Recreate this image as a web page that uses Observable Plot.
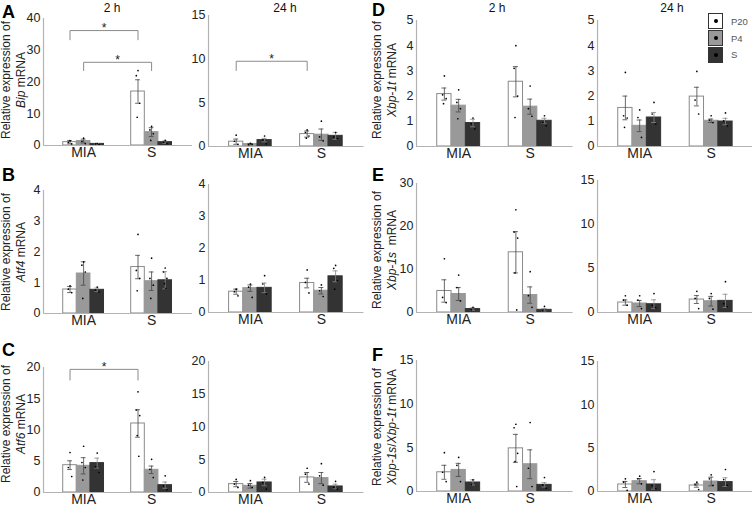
<!DOCTYPE html>
<html><head><meta charset="utf-8">
<script src="https://cdn.jsdelivr.net/npm/d3@7"></script>
<script src="https://cdn.jsdelivr.net/npm/@observablehq/plot@0.6"></script>
<style>
body{margin:0;background:#fff;font-family:Arial,"Liberation Sans",sans-serif;}
#root{position:relative;width:752px;height:511px;overflow:hidden;background:#fff}
.abs{position:absolute}
.letter{font-weight:bold;font-size:18px;color:#000;line-height:21px}
.ttl{font-size:12px;color:#111;transform:translateX(-50%);white-space:nowrap;line-height:14px}
.ylab{font-size:12px;color:#222;transform:translate(-50%,-50%) rotate(-90deg);white-space:nowrap;text-align:center;line-height:15px}
.leg{position:absolute;left:708px;top:13px;font-size:9.5px;color:#555}
.leg .row{display:flex;align-items:center;height:16.7px}
.leg .sw{width:13px;height:14px;border:1px solid #333;display:flex;align-items:center;justify-content:center;box-sizing:content-box}
.leg .sw span{width:4px;height:4px;border-radius:50%;background:#000}
.leg .lb{margin-left:8px}
svg{position:absolute}
svg g[aria-label="x-axis tick label"] text{font-size:14px}
</style></head><body><div id="root"></div>
<script>
// ---- categories ----
const groups = ["MIA", "S"];
const series = ["P20", "P4", "S"];
const times = ["2 h", "24 h"];

// ---- Bip (A) ----
const A2_mean = [1.05, 1.4, 0.5, 17.0, 4.2, 1.05];
const A2_sem  = [0.5, 0.6, 0.15, 3.7, 1.4, 0.4];
const A2_pts  = [[1.5, 1.0, 0.5], [2.3, 1.3, 0.6], [0.6, 0.5, 0.3], [23.6, 22.0, 13.3, 8.9], [6.0, 4.9, 3.7, 1.6], [1.6, 1.0, 0.6]];
const A24_mean = [0.55, 0.27, 0.73, 1.42, 1.35, 1.22];
const A24_sem  = [0.3, 0.08, 0.2, 0.35, 0.65, 0.4];
const A24_pts  = [[1.3, 0.6, 0.25], [0.35, 0.2, 0.25], [1.2, 0.75, 0.3], [1.9, 1.6, 1.2, 0.95], [2.9, 1.1, 0.65], [1.6, 1.1, 0.9]];

// ---- Atf4 (B) ----
const B2_mean = [0.78, 1.3, 0.77, 1.51, 1.05, 1.08];
const B2_sem  = [0.1, 0.38, 0.06, 0.38, 0.3, 0.28];
const B2_pts  = [[0.9, 0.79, 0.68], [1.68, 1.57, 1.35, 0.49], [0.86, 0.76, 0.7], [2.57, 1.4, 1.14, 0.74], [1.8, 1.14, 0.92, 0.49], [1.48, 1.35, 1.14, 0.97, 0.81]];
const B24_mean = [0.65, 0.76, 0.77, 0.92, 0.68, 1.13];
const B24_sem  = [0.08, 0.1, 0.15, 0.15, 0.1, 0.17];
const B24_pts  = [[0.73, 0.65, 0.52], [0.89, 0.79, 0.47], [1.15, 0.89, 0.58], [1.33, 0.94, 0.61], [0.86, 0.68, 0.5], [1.47, 1.38, 0.99, 0.73]];

// ---- Atf6 (C) ----
const C2_mean = [4.37, 4.27, 4.7, 11.04, 3.63, 1.17];
const C2_sem  = [0.7, 1.3, 0.8, 2.2, 0.6, 0.5];
const C2_pts  = [[6.4, 4.0, 2.56], [7.4, 4.8, 4.0, 2.0], [6.3, 4.1, 3.2], [16.1, 13.2, 12.3, 9.1, 5.8], [5.3, 3.7, 2.4], [2.67, 1.07, 0.43]];
const C24_mean = [1.28, 1.02, 1.53, 2.3, 2.2, 0.92];
const C24_sem  = [0.4, 0.35, 0.5, 0.75, 0.85, 0.35];
const C24_pts  = [[2.0, 1.28, 0.77], [1.8, 1.12, 0.77], [2.3, 1.53, 0.5], [3.7, 2.8, 1.28], [4.4, 2.55, 1.12], [1.7, 0.77, 0.5]];

// ---- Xbp-1t (D) ----
const D2_mean = [2.08, 1.62, 0.93, 2.57, 1.58, 1.02];
const D2_sem  = [0.24, 0.25, 0.15, 0.6, 0.3, 0.1];
const D2_pts  = [[2.8, 2.05, 1.9, 1.7], [2.25, 1.75, 1.5, 1.1], [1.13, 0.9, 0.7], [4.0, 3.1, 2.0, 1.15], [2.4, 1.5, 1.2], [1.22, 0.95, 0.82]];
const D24_mean = [1.53, 0.82, 1.15, 1.98, 1.02, 0.99];
const D24_sem  = [0.47, 0.23, 0.2, 0.37, 0.07, 0.13];
const D24_pts  = [[2.94, 1.22, 1.13, 0.76], [1.45, 1.15, 0.36], [1.75, 1.29, 0.89], [2.98, 1.84, 1.29], [1.22, 1.05, 0.95], [1.33, 1.02, 0.82]];

// ---- Xbp-1s (E) ----
const E2_mean = [5.0, 4.3, 0.8, 14.0, 4.05, 0.62];
const E2_sem  = [2.6, 1.5, 0.3, 4.8, 1.9, 0.3];
const E2_pts  = [[12.5, 3.5, 2.3], [8.7, 5.8, 2.7], [1.2, 0.6], [23.9, 18.7, 17.3, 9.2, 0.6], [9.5, 3.9, 1.2], [1.4, 0.4]];
const E24_mean = [1.13, 1.02, 0.94, 1.47, 1.28, 1.32];
const E24_sem  = [0.3, 0.35, 0.5, 0.45, 0.55, 0.75];
const E24_pts  = [[1.9, 1.4, 0.83], [1.9, 1.4, 0.45], [2.15, 0.83, 0.53], [2.4, 1.6, 0.45], [2.15, 1.6, 0.38], [3.5, 1.0, 0.64]];

// ---- Xbp-1s/Xbp-1t (F) ----
const F2_mean = [2.2, 2.47, 1.03, 4.94, 3.12, 0.76];
const F2_sem  = [0.8, 0.75, 0.3, 1.6, 1.65, 0.25];
const F2_pts  = [[4.45, 2.2, 1.14], [3.9, 3.0, 1.14], [1.33, 0.76], [7.7, 7.3, 4.37, 3.42, 0.57], [7.9, 2.66, 0.57], [1.6, 0.76, 0.38]];
const F24_mean = [0.81, 1.19, 0.81, 0.69, 1.15, 1.08];
const F24_sem  = [0.35, 0.3, 0.55, 0.2, 0.5, 0.5];
const F24_pts  = [[1.46, 1.08, 0.12], [1.77, 1.46, 0.88], [2.3, 0.7, 0.31], [1.08, 0.77, 0.23], [1.92, 1.46, 0.7], [2.54, 1.38, 0.7]];

// ---- significance brackets: [group, series] endpoints, bracket top & leg end ----
const A2_sig  = [{from: [0, 0], to: [1, 0], top: 36.2, leg: 33.3}, {from: [0, 1], to: [1, 1], top: 26.2, leg: 23.6}];
const A24_sig = [{from: [0, 0], to: [1, 0], top: 9.76, leg: 8.7}];
const C2_sig  = [{from: [0, 0], to: [1, 0], top: 19.7, leg: 18.0}];

// ---- y tick labels ----
const ticksA2 = [0, 10, 20, 30, 40];
const ticks15 = [0, 5, 10, 15];
const ticks5 = [0, 1, 2, 3, 4, 5];
const ticks4 = [0, 1, 2, 3, 4];
const ticks30 = [0, 10, 20, 30];
const ticks20 = [0, 5, 10, 15, 20];

// ---- layout (not data) ----
const COLS = [{ax: 43, sp: 68}, {ax: 208, sp: 71}, {ax: 416, sp: 71.5}, {ax: 597, sp: 71.5}];
const X0 = -0.59, X1 = 1.6, BW = 0.2, CAP = 0.035;
const fills = ["#ffffff", "#999999", "#333333"];
const strokes = ["#8a8a8a", "#999999", "#333333"];
const errCol = ["#444", "#444", "#888"];
const jit = [0, -0.025, 0.025, -0.012, 0.012];

const panels = [
  {col: 0, yTop: 18, yZero: 145, ymax: 40, ticks: ticksA2, mean: A2_mean, sem: A2_sem, pts: A2_pts, sig: A2_sig},
  {col: 1, yTop: 15, yZero: 146, ymax: 15, ticks: ticks15, mean: A24_mean, sem: A24_sem, pts: A24_pts, sig: A24_sig},
  {col: 2, yTop: 20, yZero: 146, ymax: 5, ticks: ticks5, mean: D2_mean, sem: D2_sem, pts: D2_pts},
  {col: 3, yTop: 20, yZero: 146, ymax: 5, ticks: ticks5, mean: D24_mean, sem: D24_sem, pts: D24_pts},
  {col: 0, yTop: 190, yZero: 313, ymax: 4, ticks: ticks4, mean: B2_mean, sem: B2_sem, pts: B2_pts},
  {col: 1, yTop: 184, yZero: 312, ymax: 4, ticks: ticks4, mean: B24_mean, sem: B24_sem, pts: B24_pts},
  {col: 2, yTop: 183, yZero: 312, ymax: 30, ticks: ticks30, mean: E2_mean, sem: E2_sem, pts: E2_pts},
  {col: 3, yTop: 180, yZero: 312, ymax: 15, ticks: ticks15, mean: E24_mean, sem: E24_sem, pts: E24_pts},
  {col: 0, yTop: 367, yZero: 492, ymax: 20, ticks: ticks20, mean: C2_mean, sem: C2_sem, pts: C2_pts, sig: C2_sig},
  {col: 1, yTop: 361, yZero: 492, ymax: 20, ticks: ticks20, mean: C24_mean, sem: C24_sem, pts: C24_pts},
  {col: 2, yTop: 360, yZero: 491, ymax: 15, ticks: ticks15, mean: F2_mean, sem: F2_sem, pts: F2_pts},
  {col: 3, yTop: 361, yZero: 491, ymax: 15, ticks: ticks15, mean: F24_mean, sem: F24_sem, pts: F24_pts}
];

const root = document.getElementById("root");

function drawPanel(p) {
  const {sp, ax} = COLS[p.col];
  const W = (X1 - X0) * sp, mL = 32, mR = 1, mT = 9, mB = 20;
  const H = p.yZero - p.yTop;
  const pos = (g, s) => g + (s - 1) * BW;
  const bars = [], dots = [];
  groups.forEach((g, gi) => series.forEach((s, si) => {
    const k = gi * 3 + si, c = pos(gi, si);
    bars.push({si, c, v: p.mean[k], e: p.sem[k]});
    p.pts[k].forEach((v, j) => dots.push({x: c + jit[j % jit.length], y: v}));
  }));
  const brk = [], stars = [];
  (p.sig || []).forEach((b, i) => {
    const xa = pos(...b.from), xb = pos(...b.to);
    [[xa, b.leg], [xa, b.top], [xb, b.top], [xb, b.leg]].forEach(([x, y]) => brk.push({x, y, i}));
    stars.push({x: (xa + xb) / 2, y: b.top});
  });
  const marks = [];
  series.forEach((s, si) => {
    marks.push(Plot.rect(bars.filter(d => d.si === si), {
      x1: d => d.c - BW / 2, x2: d => d.c + BW / 2, y1: () => 0, y2: "v",
      fill: fills[si], stroke: strokes[si], strokeWidth: 1
    }));
  });
  series.forEach((s, si) => {
    const bs = bars.filter(d => d.si === si);
    marks.push(Plot.ruleX(bs, {x: "c", y1: d => d.v - d.e, y2: d => d.v + d.e, stroke: errCol[si], strokeWidth: 0.8}));
    marks.push(Plot.ruleY(bs, {y: d => d.v + d.e, x1: d => d.c - CAP, x2: d => d.c + CAP, stroke: errCol[si], strokeWidth: 0.8}));
    marks.push(Plot.ruleY(bs, {y: d => d.v - d.e, x1: d => d.c - CAP, x2: d => d.c + CAP, stroke: errCol[si], strokeWidth: 0.8}));
  });
  marks.push(Plot.dot(dots, {x: "x", y: "y", r: 0.85, fill: "#000", stroke: "none"}));
  marks.push(Plot.ruleX([X0], {x: d => d, y1: () => 0, y2: () => p.ymax, stroke: "#b3b3b3", strokeWidth: 1.2}));
  marks.push(Plot.ruleY([0], {stroke: "#b3b3b3", strokeWidth: 1.2}));
  if (brk.length) {
    marks.push(Plot.line(brk, {x: "x", y: "y", z: "i", stroke: "#8a8a8a", strokeWidth: 1, curve: "linear"}));
    marks.push(Plot.text(stars, {x: "x", y: "y", text: () => "*", fontSize: 12, dy: -2, fill: "#222"}));
  }
  const svg = Plot.plot({
    width: W + mL + mR, height: H + mT + mB,
    marginLeft: mL, marginRight: mR, marginTop: mT, marginBottom: mB,
    x: {domain: [X0, X1], ticks: [0, 1], tickFormat: i => groups[i], tickSize: 0, tickPadding: 2, label: null},
    y: {domain: [0, p.ymax], ticks: p.ticks, tickFormat: d => String(d), tickSize: 0, tickPadding: 3, label: null},
    style: {fontFamily: "Arial, 'Liberation Sans', sans-serif", fontSize: "12.5px", color: "#222", background: "transparent", overflow: "visible"},
    marks
  });
  svg.style.left = (ax - mL) + "px";
  svg.style.top = (p.yTop - mT) + "px";
  root.appendChild(svg);
}
panels.forEach(drawPanel);

function addDiv(cls, html, left, top) {
  const d = document.createElement("div");
  d.className = "abs " + cls;
  d.innerHTML = html;
  d.style.left = left + "px";
  d.style.top = top + "px";
  root.appendChild(d);
}
// panel letters
[["A", 2, 2], ["B", 2, 165], ["C", 2, 340], ["D", 372, 0], ["E", 372, 165], ["F", 372, 345]].forEach(([t, x, y]) => addDiv("letter", t, x, y));
// time titles
[[times[0], 112], [times[1], 285], [times[0], 497], [times[1], 672]].forEach(([t, x]) => addDiv("ttl", t, x, 1));
// y-axis titles
const ytitles = [
  ["<i>Bip</i> mRNA", 14, 80], ["<i>Atf4</i> mRNA", 14, 252], ["<i>Atf6</i> mRNA", 14, 424],
  ["<i>Xbp-1t</i> mRNA", 385, 80], ["<i>Xbp-1s</i>&nbsp; mRNA", 385, 250], ["<i>Xbp-1s</i>/<i>Xbp-1t</i> mRNA", 385, 427]
];
ytitles.forEach(([g, x, y]) => addDiv("ylab", "Relative expression of<br>" + g, x, y));
// legend
const leg = document.createElement("div");
leg.className = "leg";
leg.innerHTML = series.map((s, i) => `<div class="row"><div class="sw" style="background:${fills[i]}"><span></span></div><div class="lb">${s}</div></div>`).join("");
root.appendChild(leg);
</script>
</body></html>
